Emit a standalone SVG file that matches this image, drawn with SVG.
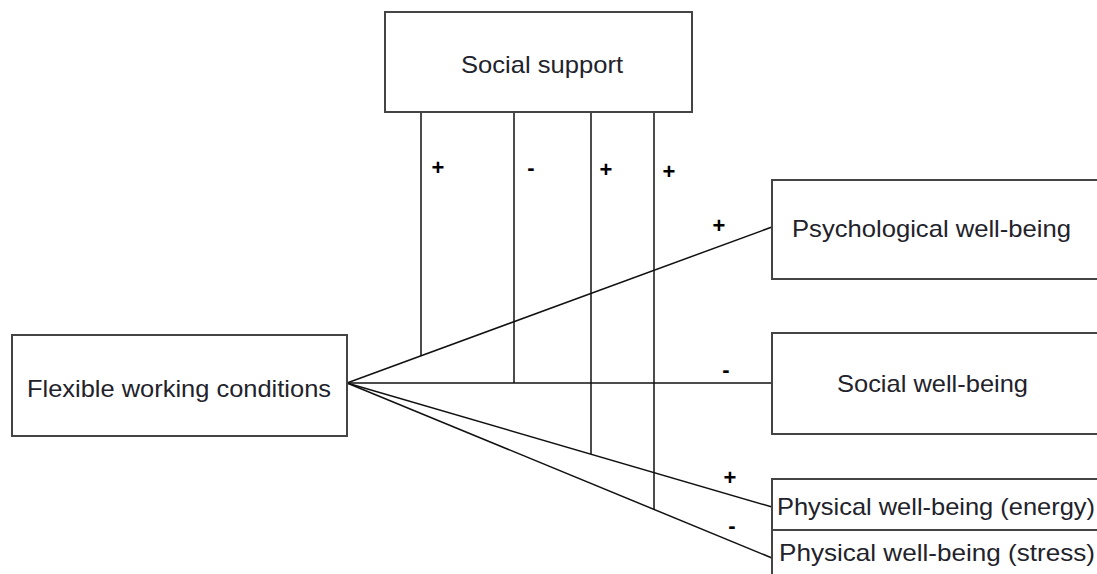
<svg xmlns="http://www.w3.org/2000/svg" width="1097" height="574" viewBox="0 0 1097 574">
<style>
.box{fill:#fff;stroke:#444;stroke-width:2}
.lbl{font-family:"Liberation Sans",Arial,sans-serif;font-size:24px;fill:#22222b}
.sign{font-family:"Liberation Sans",Arial,sans-serif;font-size:22px;font-weight:bold;fill:#000;text-anchor:middle}
.ln{stroke:#111;stroke-width:1.5;fill:none}
</style>
<rect width="1097" height="574" fill="#fff"/>
<g id="connectors">
<line class="ln" x1="347" y1="383" x2="772" y2="227"/>
<line class="ln" x1="347" y1="383" x2="772" y2="383"/>
<line class="ln" x1="347" y1="383" x2="772" y2="507"/>
<line class="ln" x1="347" y1="383" x2="772" y2="558"/>
<line class="ln" x1="421" y1="112" x2="421" y2="356"/>
<line class="ln" x1="514" y1="112" x2="514" y2="383"/>
<line class="ln" x1="591" y1="112" x2="591" y2="454"/>
<line class="ln" x1="654" y1="112" x2="654" y2="510"/>
<text class="sign" x="438" y="175">+</text>
<text class="sign" x="531" y="175">-</text>
<text class="sign" x="606" y="177">+</text>
<text class="sign" x="669" y="179">+</text>
<text class="sign" x="719" y="233">+</text>
<text class="sign" x="726" y="377">-</text>
<text class="sign" x="730" y="485">+</text>
<text class="sign" x="732" y="533">-</text>
</g>
<g id="social-support">
<rect class="box" x="385" y="12" width="307" height="100"/>
<text class="lbl" x="461" y="73" textLength="162" lengthAdjust="spacingAndGlyphs">Social support</text>
</g>
<g id="flexible">
<rect class="box" x="12" y="335" width="335" height="101"/>
<text class="lbl" x="27" y="397" textLength="304" lengthAdjust="spacingAndGlyphs">Flexible working conditions</text>
</g>
<g id="psychological">
<rect class="box" x="772" y="180" width="340" height="99"/>
<text class="lbl" x="792" y="237" textLength="279" lengthAdjust="spacingAndGlyphs">Psychological well-being</text>
</g>
<g id="social-wellbeing">
<rect class="box" x="772" y="333" width="340" height="101"/>
<text class="lbl" x="837" y="392" textLength="191" lengthAdjust="spacingAndGlyphs">Social well-being</text>
</g>
<g id="physical-energy">
<rect class="box" x="772" y="479" width="340" height="51"/>
<text class="lbl" x="777" y="515" textLength="318" lengthAdjust="spacingAndGlyphs">Physical well-being (energy)</text>
</g>
<g id="physical-stress">
<rect class="box" x="772" y="530" width="340" height="60"/>
<text class="lbl" x="779" y="561" textLength="316" lengthAdjust="spacingAndGlyphs">Physical well-being (stress)</text>
</g>
</svg>
